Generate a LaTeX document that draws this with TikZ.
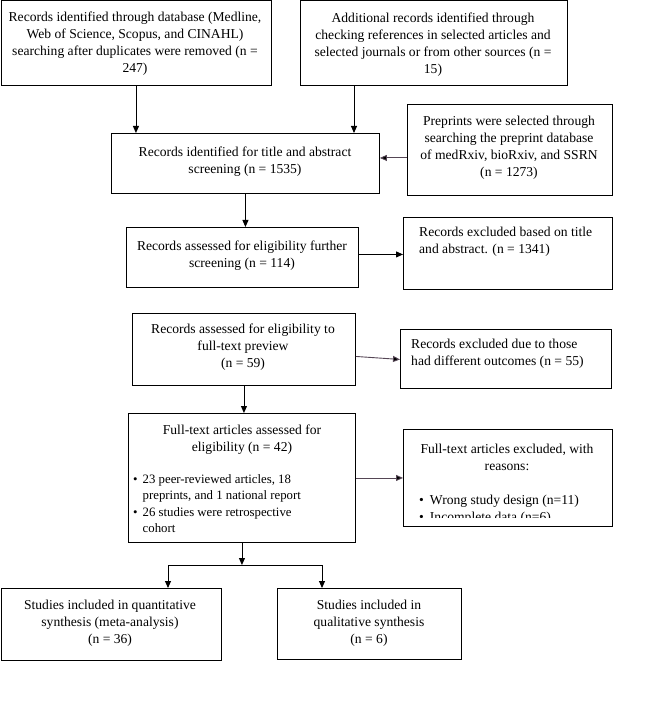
\documentclass[tikz,border=0pt]{standalone}
\usepackage{fontspec}
\setmainfont{Liberation Serif}
\usetikzlibrary{arrows.meta,calc}
\definecolor{tint}{RGB}{85,70,85}
\begin{document}
\begin{tikzpicture}[x=1pt,y=-1pt,
  box/.style={draw, line width=0.9pt, inner sep=0pt, anchor=north west},
  txt/.style={font=\fontsize{13.6}{17}\selectfont, align=center, inner sep=0pt},
  ltxt/.style={font=\fontsize{13.6}{17}\selectfont, align=left, inner sep=0pt, anchor=west},
  stxt/.style={font=\fontsize{12.8}{16.5}\selectfont, align=left, inner sep=0pt},
  arr/.style={line width=0.9pt, -{Triangle[length=7pt,width=6pt,fill=black]}},
  tarr/.style={arr, draw=tint}]
\useasboundingbox[fill=white] (0,0) rectangle (654,708);

% boxes
\node[box, minimum width=270pt, minimum height=85pt] (a) at (0.5,0.5) {};
\node[box, minimum width=267pt, minimum height=85pt] (b) at (300,0.5) {};
\node[box, minimum width=268pt, minimum height=60pt] (c) at (111,133) {};
\node[box, minimum width=205pt, minimum height=91pt] (p) at (407,104) {};
\node[box, minimum width=232pt, minimum height=60pt] (d) at (126,227) {};
\node[box, minimum width=209pt, minimum height=72pt] (e) at (403,217) {};
\node[box, minimum width=223pt, minimum height=72pt] (f) at (132,313) {};
\node[box, minimum width=211pt, minimum height=59pt] (g) at (400,329) {};
\node[box, minimum width=227pt, minimum height=129pt] (h) at (128,413) {};
\node[box, minimum width=209pt, minimum height=97pt] (i) at (403,429) {};
\node[box, minimum width=220pt, minimum height=72pt] (j) at (0.5,588) {};
\node[box, minimum width=184pt, minimum height=71pt] (k) at (277,588) {};

% texts
\node[txt] (ta) at (135,44) {Records identified through database (Medline,\\ Web of Science, Scopus, and CINAHL)\\ searching after duplicates were removed (n =\\ 247)};
\node[txt] (tb) at (433,45) {Additional records identified through\\ checking references in selected articles and\\ selected journals or from other sources (n =\\ 15)};
\node[txt] (tc) at (245,162) {Records identified for title and abstract\\ screening (n = 1535)};
\node[txt] (tp) at (509,148) {Preprints were selected through\\ searching the preprint database\\ of medRxiv, bioRxiv, and SSRN\\ (n = 1273)};
\node[txt] (td) at (242,256) {Records assessed for eligibility further\\ screening (n = 114)};
\node[ltxt] (te) at (419,242) {Records excluded based on title\\ and abstract. (n = 1341)};
\node[txt] (tf) at (243,347) {Records assessed for eligibility to\\ full-text preview\\ (n = 59)};
\node[ltxt] (tg) at (411,354) {Records excluded due to those\\ had different outcomes (n = 55)};
\node[txt] (th) at (242,440) {Full-text articles assessed for\\ eligibility (n = 42)};
\node[stxt, anchor=base west] (thl) at (133,483) {\begin{tabular}[t]{@{}l@{\hspace{5pt}}l@{}}
\textbullet & 23 peer-reviewed articles, 18\\
 & preprints, and 1 national report\\
\textbullet & 26 studies were retrospective\\
 & cohort
\end{tabular}};
\node[txt] (ti) at (507,457) {Full-text articles excluded, with\\ reasons:};
\begin{scope}
\clip (i.north west) rectangle ([yshift=9pt]i.south east);
\node[txt, anchor=base west] (til) at (419,504) {\begin{tabular}[t]{@{}l@{\hspace{6pt}}l@{}}
\textbullet & Wrong study design (n=11)\\
\textbullet & Incomplete data (n=6)
\end{tabular}};
\end{scope}
\node[txt] (tj) at (110,623) {Studies included in quantitative\\ synthesis (meta-analysis)\\ (n = 36)};
\node[txt] (tk) at (369,623) {Studies included in\\ qualitative synthesis\\ (n = 6)};

% connectors
\draw[arr] (a.south) -- (a.south |- c.north);
\draw[arr] ([xshift=54pt]b.south west) -- ([xshift=54pt]b.south west |- c.north);
\draw[tarr] ([yshift=-8pt]p.west) -- ([yshift=-8pt]p.west -| c.east);
\draw[arr] (c.south) -- (c.south |- d.north);
\draw[arr] ([yshift=3pt]d.east) -- ([yshift=3pt]d.east -| e.west);
\draw[tarr] ([yshift=-7pt]f.east) -- ([yshift=-10pt]f.east -| g.west);
\draw[arr] (f.south) -- (f.south |- h.north);
\draw[tarr] (h.east) -- (h.east -| i.west);
\coordinate (sp) at (243,565);
\coordinate (sl) at (168,565);
\coordinate (sr) at (322,565);
\draw[arr] (h.south) -- (h.south |- sp);
\draw[line width=0.9pt] (sl) -- (sr);
\draw[arr] (sl) -- (sl |- j.north);
\draw[arr] (sr) -- (sr |- k.north);
\end{tikzpicture}
\end{document}
